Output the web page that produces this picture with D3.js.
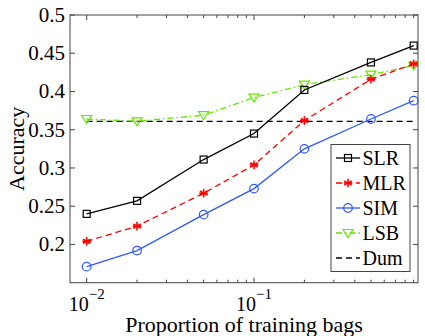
<!DOCTYPE html>
<html>
<head>
<meta charset="UTF-8">
<script src="https://d3js.org/d3.v7.min.js"></script>
<style>
  body { margin: 0; background: #fff; }
  svg { display: block; }
  text { font-family: "Liberation Serif", "Times New Roman", serif; fill: #000; }
</style>
</head>
<body>
<svg id="chart" width="425" height="336"></svg>
<script>
// data
const proporciones = [0.01, 0.02, 0.05, 0.1, 0.2, 0.5, 0.9];
const slr = [0.240, 0.257, 0.311, 0.345, 0.402, 0.438, 0.460];
const mlr = [0.204, 0.224, 0.267, 0.304, 0.362, 0.416, 0.436];
const sim = [0.171, 0.192, 0.239, 0.273, 0.325, 0.364, 0.388];
const lsb = [0.364, 0.361, 0.369, 0.392, 0.409, 0.422, 0.434];
const dum = [0.361, 0.361, 0.361, 0.361, 0.361, 0.361, 0.361];
const yTicks = [0.2, 0.25, 0.3, 0.35, 0.4, 0.45, 0.5];
const xTicks = [0.01, 0.1];
const nombres = ["SLR", "MLR", "SIM", "LSB", "Dum"];

const svg = d3.select("#chart");
const mIzq = 70, mDer = 418, mSup = 15, mInf = 282.7;

const x = d3.scaleLog().domain([0.00795, 0.955]).range([mIzq, mDer]);
const y = d3.scaleLinear().domain([0.15, 0.5]).range([mInf, mSup]);

const series = [
  { name: nombres[0], vals: slr, color: "#000000", dash: null, marker: "square" },
  { name: nombres[1], vals: mlr, color: "#ff0000", dash: "6,4", marker: "star" },
  { name: nombres[2], vals: sim, color: "#3158ff", dash: null, marker: "circle" },
  { name: nombres[3], vals: lsb, color: "#66e600", dash: "6,3,1.5,3", marker: "tri" },
  { name: nombres[4], vals: dum, color: "#000000", dash: "6,4", marker: null }
];

// marco
svg.append("rect")
  .attr("x", mIzq).attr("y", mSup)
  .attr("width", mDer - mIzq).attr("height", mInf - mSup)
  .attr("fill", "none").attr("stroke", "#444").attr("stroke-width", 1);

// minor + major x ticks (inward, bottom and top)
const minor = [];
[0.01, 0.1].forEach(d => { for (let k = 1; k <= 9; k++) minor.push(d * k); });
const tickG = svg.append("g").attr("stroke", "#444").attr("stroke-width", 1);
minor.filter(v => v <= 0.955).forEach(v => {
  const major = xTicks.includes(v);
  const len = major ? 5 : 3;
  tickG.append("line").attr("x1", x(v)).attr("x2", x(v)).attr("y1", mInf).attr("y2", mInf - len);
  tickG.append("line").attr("x1", x(v)).attr("x2", x(v)).attr("y1", mSup).attr("y2", mSup + len);
});

// y ticks both sides
yTicks.forEach(v => {
  tickG.append("line").attr("x1", mIzq).attr("x2", mIzq + 5).attr("y1", y(v)).attr("y2", y(v));
  tickG.append("line").attr("x1", mDer).attr("x2", mDer - 5).attr("y1", y(v)).attr("y2", y(v));
});

svg.append("g").selectAll("text").data(yTicks).join("text")
  .attr("x", mIzq - 5).attr("y", d => y(d)).attr("dy", "0.33em")
  .attr("text-anchor", "end").attr("font-size", 21)
  .text(d => String(d));

// x tick labels 10^-k
const xl = svg.append("g").selectAll("text").data(xTicks).join("text")
  .attr("x", d => x(d)).attr("y", 311)
  .attr("text-anchor", "middle").attr("font-size", 20);
xl.append("tspan").text("10");
xl.append("tspan").attr("dy", -12).attr("font-size", 15).text(d => "\u2212" + Math.round(-Math.log10(d)));

// axis labels
svg.append("text").attr("x", (mIzq + mDer) / 2).attr("y", 332)
  .attr("text-anchor", "middle").attr("font-size", 22)
  .text("Proportion of training bags");
svg.append("text")
  .attr("transform", `translate(24,${(mSup + mInf) / 2}) rotate(-90)`)
  .attr("text-anchor", "middle").attr("font-size", 22)
  .text("Accuracy");

// lines
const line = d3.line().x(d => x(d[0])).y(d => y(d[1]));

function drawMarker(g, type, color, cx, cy) {
  if (type === "square") {
    g.append("rect").attr("x", cx - 3.5).attr("y", cy - 3.5).attr("width", 7).attr("height", 7)
      .attr("fill", "none").attr("stroke", color).attr("stroke-width", 1.2);
  } else if (type === "circle") {
    g.append("circle").attr("cx", cx).attr("cy", cy).attr("r", 4.3)
      .attr("fill", "none").attr("stroke", color).attr("stroke-width", 1.2);
  } else if (type === "tri") {
    g.append("path").attr("d", `M${cx - 5},${cy - 3.5}L${cx + 5},${cy - 3.5}L${cx},${cy + 4.5}Z`)
      .attr("fill", "none").attr("stroke", color).attr("stroke-width", 1.2);
  } else if (type === "star") {
    const r = 4.3;
    [0, 60, 120].forEach(a => {
      const t = a * Math.PI / 180 + Math.PI / 2;
      g.append("line")
        .attr("x1", cx - r * Math.cos(t)).attr("y1", cy - r * Math.sin(t))
        .attr("x2", cx + r * Math.cos(t)).attr("y2", cy + r * Math.sin(t))
        .attr("stroke", color).attr("stroke-width", 1.6);
    });
    g.append("line").attr("x1", cx - r).attr("x2", cx + r).attr("y1", cy).attr("y2", cy)
      .attr("stroke", color).attr("stroke-width", 1.6);
  }
}

// dummy first, so it sits under the rest
[4, 3, 0, 1, 2].forEach(i => {
  const s = series[i];
  const pts = proporciones.map((p, j) => [p, s.vals[j]]);
  const g = svg.append("g");
  g.append("path").attr("d", line(pts))
    .attr("fill", "none").attr("stroke", s.color).attr("stroke-width", 1.3)
    .attr("stroke-dasharray", s.dash);
  if (s.marker) pts.forEach(p => drawMarker(g, s.marker, s.color, x(p[0]), y(p[1])));
});

// legend
const lg = svg.append("g");
lg.append("rect").attr("x", 331).attr("y", 144.5).attr("width", 79).attr("height", 127)
  .attr("fill", "#fff").attr("stroke", "#444").attr("stroke-width", 1);
series.forEach((s, i) => {
  const ly = 158 + i * 25;
  lg.append("line").attr("x1", 336).attr("x2", 360).attr("y1", ly).attr("y2", ly)
    .attr("stroke", s.color).attr("stroke-width", 1.3).attr("stroke-dasharray", s.dash);
  if (s.marker) drawMarker(lg, s.marker, s.color, 348, ly);
  lg.append("text").attr("x", 362.5).attr("y", ly).attr("dy", "0.35em")
    .attr("font-size", 20).text(s.name);
});
</script>
</body>
</html>
